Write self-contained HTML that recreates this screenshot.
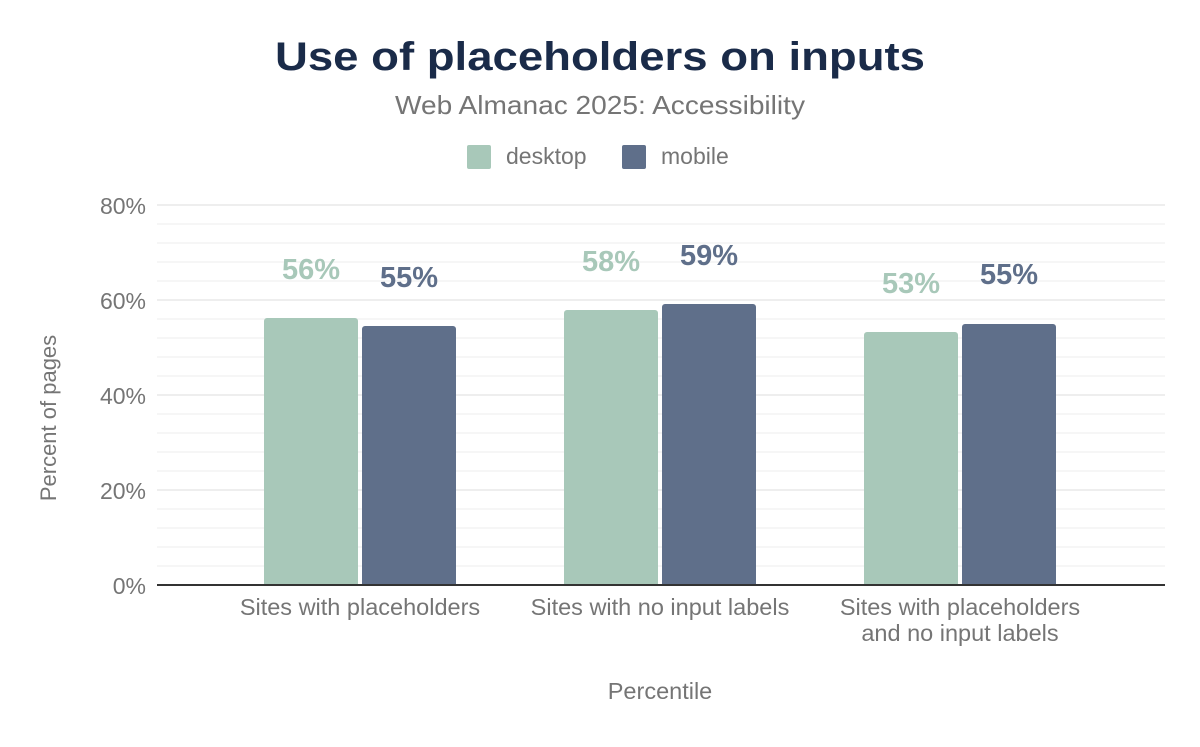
<!DOCTYPE html>
<html><head><meta charset="utf-8"><style>
body{margin:0;background:#fff;font-family:"Liberation Sans",sans-serif;}
</style></head><body>
<svg width="1200" height="742" xmlns="http://www.w3.org/2000/svg" font-family="Liberation Sans, sans-serif">
<rect width="1200" height="742" fill="#fff"/>
<text x="600" y="70" text-anchor="middle" font-size="40" font-weight="bold" fill="#1a2b49" textLength="650" lengthAdjust="spacingAndGlyphs">Use of placeholders on inputs</text>
<text x="600" y="114" text-anchor="middle" font-size="26" fill="#757575" textLength="410" lengthAdjust="spacingAndGlyphs">Web Almanac 2025: Accessibility</text>
<rect x="467" y="145" width="24" height="24" rx="2" fill="#a8c8b9"/>
<text x="506" y="164" font-size="23" fill="#757575">desktop</text>
<rect x="622" y="145" width="24" height="24" rx="2" fill="#5f6f8a"/>
<text x="661" y="164" font-size="23" fill="#757575">mobile</text>
<g stroke="#f4f4f4" stroke-width="1.5">
<line x1="157" x2="1165" y1="224" y2="224"/><line x1="157" x2="1165" y1="243" y2="243"/><line x1="157" x2="1165" y1="262" y2="262"/><line x1="157" x2="1165" y1="281" y2="281"/>
<line x1="157" x2="1165" y1="319" y2="319"/><line x1="157" x2="1165" y1="338" y2="338"/><line x1="157" x2="1165" y1="357" y2="357"/><line x1="157" x2="1165" y1="376" y2="376"/>
<line x1="157" x2="1165" y1="414" y2="414"/><line x1="157" x2="1165" y1="433" y2="433"/><line x1="157" x2="1165" y1="452" y2="452"/><line x1="157" x2="1165" y1="471" y2="471"/>
<line x1="157" x2="1165" y1="509" y2="509"/><line x1="157" x2="1165" y1="528" y2="528"/><line x1="157" x2="1165" y1="547" y2="547"/><line x1="157" x2="1165" y1="566" y2="566"/>
</g>
<g stroke="#eeeeee" stroke-width="2">
<line x1="157" x2="1165" y1="205" y2="205"/><line x1="157" x2="1165" y1="300" y2="300"/><line x1="157" x2="1165" y1="395" y2="395"/><line x1="157" x2="1165" y1="490" y2="490"/>
</g>
<g font-size="23" fill="#757575" text-anchor="end">
<text x="146" y="214">80%</text><text x="146" y="309">60%</text><text x="146" y="404">40%</text><text x="146" y="499">20%</text><text x="146" y="594">0%</text>
</g>
<text transform="translate(56,418) rotate(-90)" text-anchor="middle" font-size="22" fill="#757575">Percent of pages</text>
<g fill="#a8c8b9">
<path d="M264,585V321a3,3 0 0 1 3,-3h88a3,3 0 0 1 3,3V585z"/>
<path d="M564,585V313a3,3 0 0 1 3,-3h88a3,3 0 0 1 3,3V585z"/>
<path d="M864,585V335a3,3 0 0 1 3,-3h88a3,3 0 0 1 3,3V585z"/>
</g>
<g fill="#5f6f8a">
<path d="M362,585V329a3,3 0 0 1 3,-3h88a3,3 0 0 1 3,3V585z"/>
<path d="M662,585V307a3,3 0 0 1 3,-3h88a3,3 0 0 1 3,3V585z"/>
<path d="M962,585V327a3,3 0 0 1 3,-3h88a3,3 0 0 1 3,3V585z"/>
</g>
<line x1="157" x2="1165" y1="585" y2="585" stroke="#333" stroke-width="2"/>
<g font-size="29" font-weight="bold" text-anchor="middle">
<text x="311" y="279" fill="#a8c8b9">56%</text><text x="409" y="287" fill="#5f6f8a">55%</text>
<text x="611" y="271" fill="#a8c8b9">58%</text><text x="709" y="265" fill="#5f6f8a">59%</text>
<text x="911" y="293" fill="#a8c8b9">53%</text><text x="1009" y="284" fill="#5f6f8a">55%</text>
</g>
<g font-size="23.5" fill="#757575" text-anchor="middle">
<text x="360" y="615">Sites with placeholders</text>
<text x="660" y="615">Sites with no input labels</text>
<text x="960" y="615">Sites with placeholders</text>
<text x="960" y="641">and no input labels</text>
<text x="660" y="699">Percentile</text>
</g>
</svg>
</body></html>
